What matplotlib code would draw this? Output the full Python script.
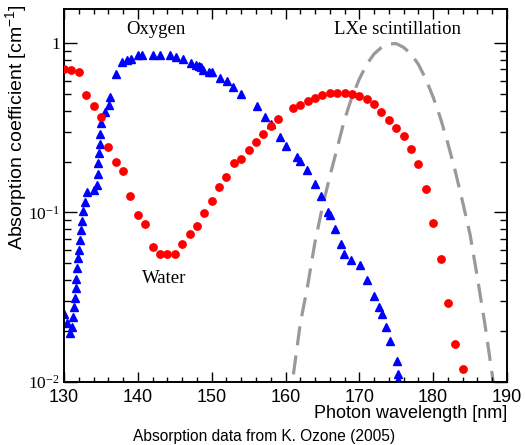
import matplotlib
matplotlib.use("Agg")
import matplotlib.pyplot as plt
from matplotlib.ticker import FixedLocator, LogLocator, NullFormatter, MultipleLocator

# ---------------- data ----------------
water_nm = [130, 131, 132, 133, 134, 135, 136, 137, 138, 139, 140, 141, 142, 143,
            144, 145, 146, 147, 148, 149, 150, 151, 152, 153, 154, 155, 156, 157,
            158, 159, 161, 162, 163, 164, 165, 166, 167, 168, 169, 170, 171, 172,
            173, 174, 175, 176, 177, 178, 179, 180, 181, 182, 183, 184]
water_abs = [0.705, 0.698, 0.677, 0.493, 0.426, 0.365, 0.244, 0.198, 0.177, 0.125,
             0.0966, 0.0855, 0.0628, 0.0566, 0.0565, 0.0569, 0.0652, 0.0743, 0.0832,
             0.0997, 0.117, 0.141, 0.163, 0.195, 0.208, 0.234, 0.262, 0.291, 0.326,
             0.356, 0.413, 0.430, 0.454, 0.477, 0.495, 0.508, 0.508, 0.508, 0.504,
             0.486, 0.467, 0.436, 0.394, 0.351, 0.316, 0.282, 0.238, 0.193, 0.138,
             0.0871, 0.0529, 0.0293, 0.0166, 0.0119]

oxygen_nm = [130.04, 130.45, 130.81, 131.04, 131.26, 131.35, 131.49, 131.63, 131.69,
             131.80, 131.90, 131.99, 132.10, 132.26, 132.40, 132.51, 132.84, 133.16,
             134.06, 134.43, 134.61, 134.67, 134.78, 134.88, 134.94, 135.01, 135.55,
             136.10, 136.27, 137.04, 137.79, 138.53, 139.07, 140.05, 140.63, 142.10,
             143.04, 144.33, 145.14, 146.15, 147.20, 147.91, 148.22, 148.56, 148.87,
             149.61, 149.98, 151.16, 152.08, 152.86, 153.97, 156.11, 157.22, 158.06,
             159.19, 160.10, 161.53, 162.01, 162.87, 164.04, 164.81, 165.80, 166.03,
             166.75, 167.52, 167.97, 168.91, 170.09, 171.00, 171.95, 172.62, 173.07,
             173.61, 174.20, 175.06, 175.20, 175.28]
oxygen_abs = [0.0250, 0.0222, 0.0193, 0.0210, 0.0240, 0.0277, 0.0313, 0.0360, 0.0405,
              0.0468, 0.0535, 0.0600, 0.0692, 0.0783, 0.0891, 0.1027, 0.115, 0.1316,
              0.1358, 0.1454, 0.168, 0.196, 0.226, 0.254, 0.290, 0.337, 0.390,
              0.432, 0.480, 0.659, 0.770, 0.797, 0.811, 0.849, 0.849, 0.853,
              0.853, 0.853, 0.830, 0.810, 0.763, 0.746, 0.734, 0.719, 0.698,
              0.679, 0.674, 0.626, 0.595, 0.553, 0.498, 0.426, 0.367, 0.335,
              0.281, 0.248, 0.214, 0.202, 0.1776, 0.1474, 0.1252, 0.1011, 0.0966,
              0.0799, 0.0654, 0.0568, 0.0526, 0.0488, 0.0399, 0.0322, 0.0275, 0.0252,
              0.0210, 0.01747, 0.0133, 0.0111, 0.0102]

lxe_nm = [160, 161, 162, 163, 164, 165, 166, 167, 168, 169, 170, 171, 172, 173, 174,
          175, 176, 177, 178, 179, 180, 181, 182, 183, 184, 185, 186, 187, 188, 189]
lxe_int = [0.005, 0.0105, 0.022, 0.037, 0.067, 0.108, 0.163, 0.240, 0.355, 0.480,
           0.615, 0.750, 0.865, 0.945, 0.990, 0.995, 0.945, 0.865, 0.750, 0.615,
           0.480, 0.360, 0.255, 0.175, 0.115, 0.074, 0.041, 0.022, 0.011, 0.005]

xticks = [130, 140, 150, 160, 170, 180, 190]
yticks = [0.01, 0.1, 1]
ytick_labels = [r'$\mathregular{10^{-2}}$', r'$\mathregular{10^{-1}}$', '1']

# ---------------- figure ----------------
W, H = 525, 445
fig = plt.figure(figsize=(W / 100, H / 100), dpi=100)
ax = fig.add_axes([64 / W, 1 - 381.7 / H, (507 - 64) / W, (381.7 - 8.7) / H])

ax.plot(lxe_nm, lxe_int, color='#999999', lw=2.3, dashes=(6, 3.2), zorder=1)
ax.plot(water_nm, water_abs, 'o', color='#ff0000', ms=5.3, mec='#ff0000', zorder=3)
ax.plot(oxygen_nm, oxygen_abs, '^', color='#0000ff', ms=5.6, mec='#0000ff', zorder=2)

ax.set_yscale('log')
ax.set_xlim(130, 190)
ax.set_ylim(0.01, 1.6)

ax.xaxis.set_major_locator(FixedLocator(xticks))
ax.xaxis.set_minor_locator(MultipleLocator(2))
ax.yaxis.set_major_locator(FixedLocator(yticks))
ax.yaxis.set_minor_locator(LogLocator(base=10, subs=[2, 3, 4, 5, 6, 7, 8, 9]))
ax.yaxis.set_minor_formatter(NullFormatter())
ax.set_yticklabels(ytick_labels, fontfamily='Liberation Serif', fontsize=12.5)
ax.set_xticklabels([str(t) for t in xticks], fontfamily='Liberation Sans', fontsize=13)

ax.tick_params(which='both', direction='in', top=True, right=True, width=1.0, color='black')
ax.tick_params(axis='x', which='major', length=7.5, pad=5)
ax.tick_params(axis='x', which='minor', length=3.8)
ax.tick_params(axis='y', which='major', length=9.5, pad=3)
ax.tick_params(axis='y', which='minor', length=5)
for s in ax.spines.values():
    s.set_linewidth(1.4)

serif = 'Liberation Serif'
ax.text(0.2077, 0.943, 'Oxygen', transform=ax.transAxes, ha='center', va='center',
        fontfamily=serif, fontsize=13.5)
ax.text(0.7528, 0.943, 'LXe scintillation', transform=ax.transAxes, ha='center', va='center',
        fontfamily=serif, fontsize=13.5)
ax.text(0.2257, 0.278, 'Water', transform=ax.transAxes, ha='center', va='center',
        fontfamily=serif, fontsize=13.5)

fig.text(507 / W, 1 - 414 / H, 'Photon wavelength [nm]', ha='right', va='center',
         fontfamily='Liberation Sans', fontsize=13)
fig.text(17 / W, 1 - 4 / H, r'Absorption coefficient [cm$^{\mathregular{-1}}$]', rotation=90,
         ha='center', va='top', fontfamily='Liberation Sans', fontsize=14)
fig.text(264 / W, 1 - 437 / H, 'Absorption data from K. Ozone (2005)', ha='center', va='center',
         fontfamily='Liberation Sans', fontsize=11.2)

fig.savefig('out.png', dpi=100)
